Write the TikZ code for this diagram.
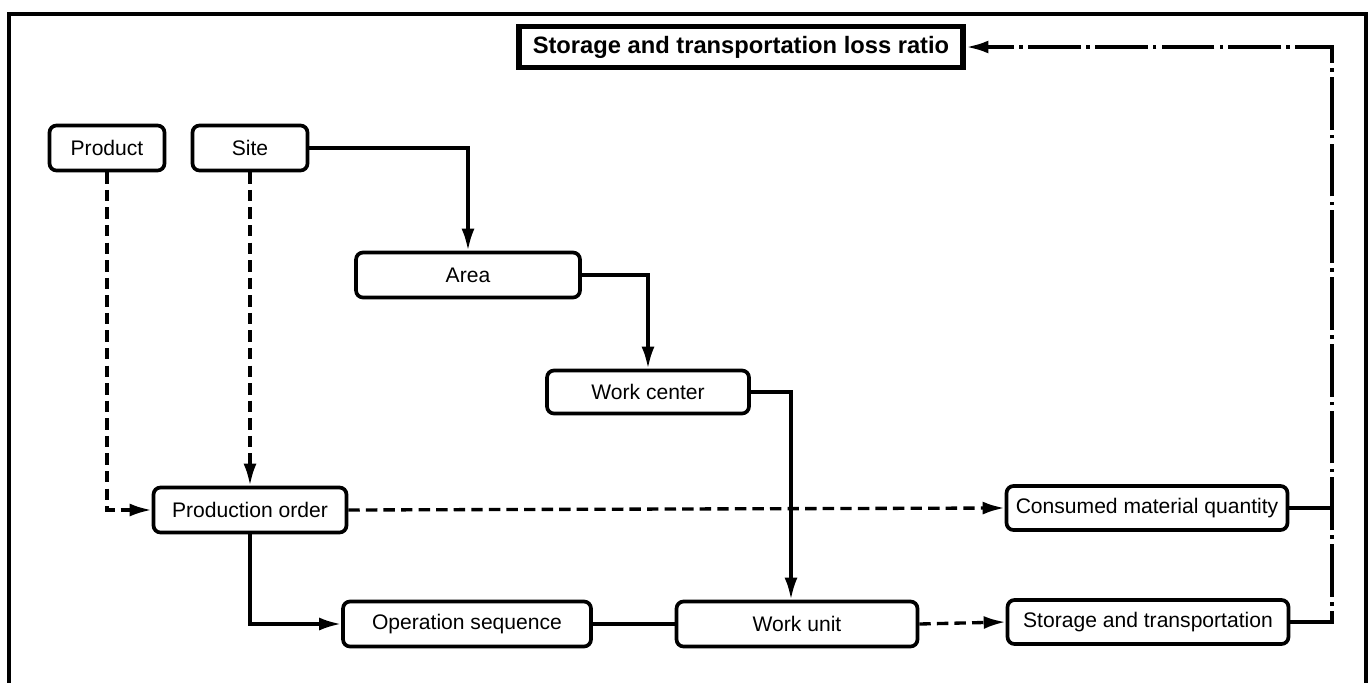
\documentclass[tikz,border=0pt]{standalone}
\usepackage{fontspec}
\setmainfont{Liberation Sans}
\usepackage{tikz}
\usetikzlibrary{arrows.meta, positioning, calc}
\tikzset{
  box/.style={rectangle, rounded corners=4pt, draw=black, fill=white, line width=2.1pt,
              minimum height=0.9cm, minimum width=2.3cm, inner xsep=0.1cm, align=center,
              font=\fontsize{12}{14}\selectfont},
  titlebox/.style={rectangle, draw=black, fill=white, line width=3.4pt,
              minimum height=0.82cm, minimum width=8.9cm, inner xsep=0.1cm,
              font=\fontsize{13.5}{15}\selectfont\bfseries},
  flow/.style={-{Latex[length=4.4mm, width=2.6mm]}, draw=black, line width=1.9pt},
  dashflow/.style={flow, dash pattern=on 6.5pt off 3.5pt},
  dotflow/.style={flow, dash pattern=on 30pt off 3pt on 2pt off 3pt},
  plain/.style={draw=black, line width=1.9pt}
}
\begin{document}
\begin{tikzpicture}[x=0.02cm, y=-0.02cm]
  \useasboundingbox (0,0) rectangle (1370,683);
  % frame
  \draw[line width=2.2pt] (9,683) -- (9,14) -- (1366,14) -- (1366,683);

  \node[titlebox] (ratio) at (741,47) {Storage and transportation loss ratio};

  \node[box] (product) at (107,148) {Product};
  \node[box] (site) at (250,148) {Site};
  \node[box, minimum width=4.48cm] (area) at (468,275) {Area};
  \node[box, minimum width=4.04cm, minimum height=0.86cm] (wc) at (648,392) {Work center};
  \node[box, minimum width=3.86cm] (order) at (250,510) {Production order};
  \node[box, minimum width=4.96cm] (opseq) at (467,624) {Operation sequence};
  \node[box, minimum width=4.82cm] (wu) at (797,624) {Work unit};
  \node[box, minimum width=5.62cm, minimum height=0.88cm] (cmq) at (1147,508) {Consumed material quantity};
  \node[box, minimum width=5.62cm, minimum height=0.88cm] (st) at (1148,622) {Storage and transportation};

  \coordinate (corner) at (1332,47);

  % solid links
  \draw[flow] (site.east) -| (area.north);
  \draw[flow] (area.east) -| (wc.north);
  \draw[flow] (wc.east) -| ([xshift=-0.12cm]wu.north);
  \draw[flow] (order.south) |- (opseq.west);
  \draw[plain] (opseq.east) -- (wu.west);

  % dashed links
  \draw[dashflow] (product.south) |- (order.west);
  \draw[dashflow] (site.south) -- (order.north);
  \draw[dashflow] (order.east) -- (cmq.west);
  \draw[dashflow] (wu.east) -- (st.west);

  % dash-dot links
  \draw[dotflow] (st.east) -| (corner) -- (ratio.east);
  \draw[dotflow, -] (cmq.east) -- (cmq.east -| corner);
\end{tikzpicture}
\end{document}
